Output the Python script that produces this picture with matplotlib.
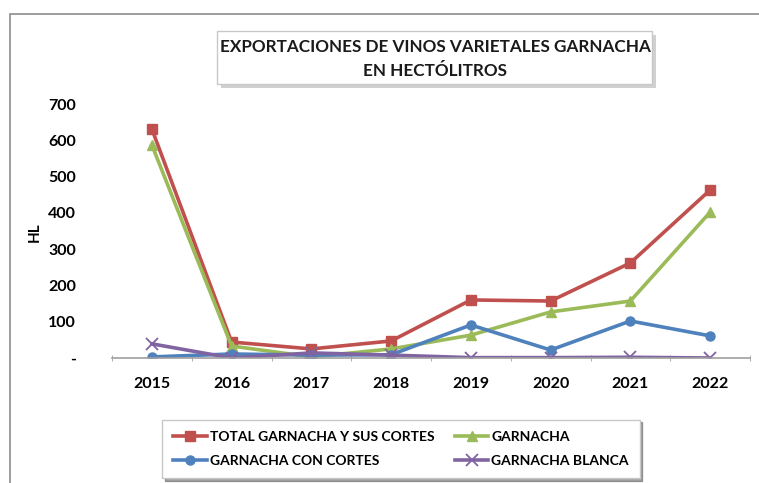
import numpy as np
from matplotlib import pyplot as plt
from matplotlib.patches import Rectangle

plt.rcParams['font.family'] = ['Lato', 'DejaVu Sans']

years = ['2015', '2016', '2017', '2018', '2019', '2020', '2021', '2022']
total = [631, 44, 25, 47, 160, 157, 262, 463]
garnacha = [587, 33, 3, 25, 63, 127, 157, 402]
con_cortes = [3, 11, 8, 9, 91, 22, 102, 61]
blanca = [39, 0, 14, 8, 1, 1, 2, 0]

yticks = [0, 100, 200, 300, 400, 500, 600, 700]
ytick_labels = ['-', '100', '200', '300', '400', '500', '600', '700']

fig = plt.figure(figsize=(7.59, 4.83), dpi=100)

# marco gris del grafico
fig.patches.append(Rectangle((10 / 759, -0.01), 1.0, 1 - 14 / 483 + 0.01,
                             transform=fig.transFigure, fill=False,
                             edgecolor='#8c8c8c', linewidth=1.2))

ax = fig.add_axes([112 / 759, 1 - 358 / 483, 638 / 759, 254 / 483])
x = np.arange(len(years))

lw = 2.6
l1, = ax.plot(x, total, color='#C0504D', lw=lw, marker='s', ms=6.5,
              label='TOTAL GARNACHA Y SUS CORTES')
l2, = ax.plot(x, garnacha, color='#9BBB59', lw=lw, marker='^', ms=6.5,
              label='GARNACHA')
l3, = ax.plot(x, con_cortes, color='#4F81BD', lw=lw, marker='o', ms=6.5,
              label='GARNACHA CON CORTES')
l4, = ax.plot(x, blanca, color='#8064A2', lw=lw, marker='x', ms=8, mew=1.3,
              label='GARNACHA BLANCA')

ax.set_xlim(-0.5, 7.5)
ax.set_ylim(0, 700)
ax.set_xticks(x)
ax.set_xticklabels(years, fontsize=11.5, fontweight='bold')
ax.set_xticks(np.arange(-0.5, 8, 1), minor=True)
ax.tick_params(axis='x', which='major', length=0, pad=14)
ax.tick_params(axis='x', which='minor', length=5, color='#a0a0a0', direction='inout')
ax.set_yticks(yticks)
ax.set_yticklabels(ytick_labels, fontsize=11.5, fontweight='bold')
ax.tick_params(axis='y', length=0, pad=26)
for s in ['top', 'right', 'left']:
    ax.spines[s].set_visible(False)
ax.spines['bottom'].set_color('#a0a0a0')
ax.spines['bottom'].set_linewidth(1.2)

fig.text(35 / 759, 1 - 232 / 483, 'HL', rotation=90, fontsize=11,
         fontweight='bold', ha='center', va='center')

# caja del titulo con sombra
fig.patches.append(Rectangle((221 / 759, 1 - 88 / 483), 435 / 759, 53 / 483,
                             transform=fig.transFigure, facecolor='#bdbdbd',
                             edgecolor='none', alpha=0.7))
fig.patches.append(Rectangle((217 / 759, 1 - 84 / 483), 435 / 759, 53 / 483,
                             transform=fig.transFigure, facecolor='white',
                             edgecolor='#c8c8c8', linewidth=1))
fig.text(435 / 759, 1 - 59 / 483,
         'EXPORTACIONES DE VINOS VARIETALES GARNACHA\nEN HECTÓLITROS',
         ha='center', va='center', fontsize=12.3, linespacing=1.55,
         fontweight='bold', color='#1a1a1a')

leg = fig.legend(handles=[l1, l3, l2, l4], ncol=2, loc='center',
                 bbox_to_anchor=(401 / 759, 1 - 449 / 483),
                 prop={'size': 10, 'weight': 'bold'}, frameon=True,
                 fancybox=False, shadow=True, edgecolor='#c8c8c8',
                 handlelength=2.4, handletextpad=0.2, columnspacing=1.5,
                 borderpad=0.8, labelspacing=0.9, borderaxespad=0)
leg.get_frame().set_linewidth(1)

fig.savefig('out.png', dpi=100)
